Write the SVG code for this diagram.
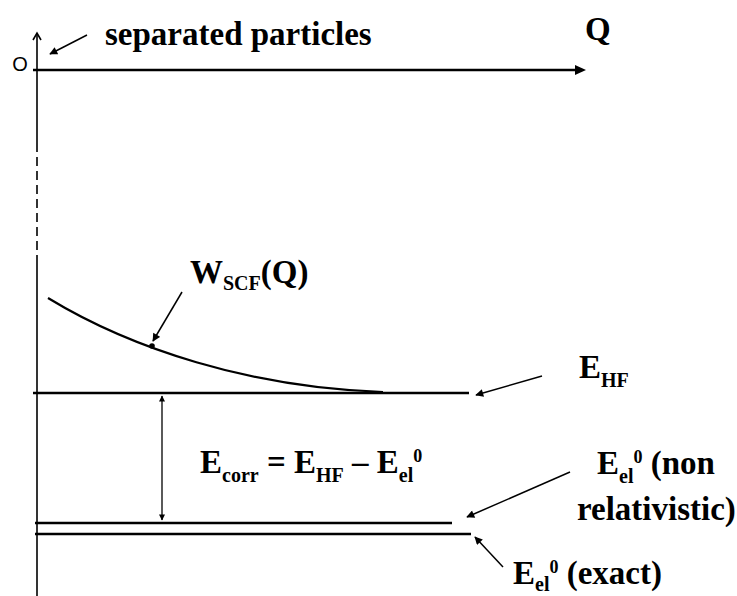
<svg xmlns="http://www.w3.org/2000/svg" width="737" height="596" viewBox="0 0 737 596">
<defs>
<style>
.t{font-family:"Liberation Serif","Times New Roman",serif;font-weight:bold;font-size:33px;fill:#000}
.s{font-size:20px}
.p{font-size:18px}
.o{font-family:"Liberation Sans",Arial,sans-serif;font-size:20px;fill:#000}
.ln{stroke:#000;stroke-width:2.5;fill:none}
.ax{stroke:#000;stroke-width:1.6;fill:none}
.ar{stroke:#000;stroke-width:1.5;fill:none;marker-end:url(#ah)}
</style>
<marker id="ah" viewBox="0 0 10 10" refX="9" refY="5" markerWidth="10" markerHeight="8" markerUnits="userSpaceOnUse" orient="auto">
<path d="M0,0 L10,5 L0,10 z" fill="#000"/>
</marker>
<marker id="ah2" viewBox="0 0 10 10" refX="9" refY="5" markerWidth="9" markerHeight="6" markerUnits="userSpaceOnUse" orient="auto-start-reverse">
<path d="M0,0 L10,5 L0,10 z" fill="#000"/>
</marker>
</defs>
<rect width="737" height="596" fill="#fff"/>

<g id="axes">
<path class="ax" d="M37,33 V143"/>
<path class="ax" d="M37,143 V260" stroke-dasharray="9,5"/>
<path class="ax" d="M37,260 V596"/>
<path class="ax" d="M33,40 L37,33 L41,40"/>
<path class="ln" d="M33,70 H576"/>
<path d="M575,65 L586,70 L575,75 z" fill="#000"/>
</g>

<g id="levels">
<path id="curve-wscf" d="M48,298 C130,348 250,388 383,392" stroke="#000" stroke-width="2.2" fill="none"/>
<circle cx="152" cy="346" r="2.8" fill="#000"/>
<path id="line-ehf" class="ln" d="M33,393 H469"/>
<path id="line-nonrel" class="ln" d="M35,523 H452"/>
<path id="line-exact" class="ln" d="M35,534 H471"/>
</g>

<g id="connectors">
<path class="ar" d="M87,35 L50,54"/>
<path class="ar" d="M182,292 L153,341"/>
<path class="ar" d="M542,376 L476,395"/>
<path class="ar" d="M570,472 L467,517"/>
<path class="ar" d="M503,567 L475,537"/>
<path d="M162,396 V520" stroke="#000" stroke-width="1.3" fill="none" marker-start="url(#ah2)" marker-end="url(#ah2)"/>
</g>

<g id="label-origin">
<text class="o" x="20" y="71" text-anchor="middle">O</text>
</g>
<g id="label-separated">
<text class="t" x="105" y="45">separated particles</text>
</g>
<g id="label-q">
<text class="t" x="585" y="40">Q</text>
</g>
<g id="label-wscf">
<text class="t" x="190" y="283">W<tspan class="s" dy="7">SCF</tspan><tspan dy="-7">(Q)</tspan></text>
</g>
<g id="label-ehf">
<text class="t" x="579" y="378">E<tspan class="s" dy="9">HF</tspan></text>
</g>
<g id="label-ecorr">
<text class="t" x="200" y="473">E<tspan class="s" dy="9">corr</tspan><tspan dy="-9"> = E</tspan><tspan class="s" dy="9">HF</tspan><tspan dy="-9"> – E</tspan><tspan class="s" dy="9">el</tspan><tspan class="p" dy="-20">0</tspan></text>
</g>
<g id="label-nonrel">
<text class="t" x="597" y="474">E<tspan class="s" dy="9">el</tspan><tspan class="p" dy="-20">0</tspan><tspan dy="11"> (non</tspan></text>
<text class="t" x="577" y="520">relativistic)</text>
</g>
<g id="label-exact">
<text class="t" x="513" y="584">E<tspan class="s" dy="7">el</tspan><tspan class="p" dy="-18">0</tspan><tspan dy="11"> (exact)</tspan></text>
</g>
</svg>
